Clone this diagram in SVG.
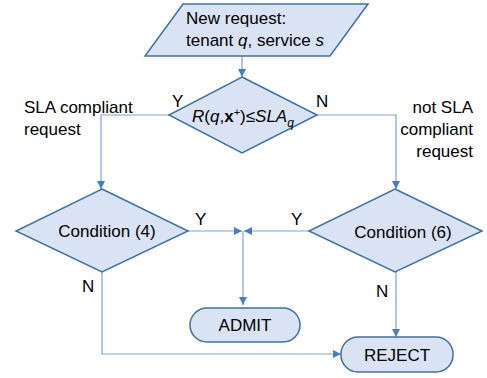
<svg xmlns="http://www.w3.org/2000/svg" width="487" height="378" viewBox="0 0 487 378">
  <defs>
    <marker id="arrow" viewBox="0 0 10 10" refX="10" refY="5" markerWidth="8" markerHeight="8" markerUnits="userSpaceOnUse" orient="auto">
      <path d="M0,0 L10,5 L0,10 Z" fill="#4a7cc4"/>
    </marker>
    <style>
      .shape { fill: #dae3f3; stroke: #41719c; stroke-width: 1.5; }
      .conn { fill: none; stroke: #7ea3d4; stroke-width: 1.2; }
      .lbl { font-family: "Liberation Sans", Arial, sans-serif; font-size: 17px; fill: #000; }
      .mid { text-anchor: middle; }
    </style>
  </defs>

  <rect width="487" height="378" fill="#ffffff"/>

  <!-- connectors -->
  <g id="connectors">
    <path class="conn" d="M242,56 V77" marker-end="url(#arrow)"/>
    <path class="conn" d="M169,115 H101 V189" marker-end="url(#arrow)"/>
    <path class="conn" d="M317,115 H396 V189" marker-end="url(#arrow)"/>
    <path class="conn" d="M188,231 H242" marker-end="url(#arrow)"/>
    <path class="conn" d="M309,231 H244" marker-end="url(#arrow)"/>
    <path class="conn" d="M243,231 V305" marker-end="url(#arrow)"/>
    <path class="conn" d="M102,272 V354 H341" marker-end="url(#arrow)"/>
    <path class="conn" d="M396,272 V337" marker-end="url(#arrow)"/>
    <text class="lbl" x="172" y="107">Y</text>
    <text class="lbl" x="316" y="107">N</text>
    <text class="lbl" x="195" y="225">Y</text>
    <text class="lbl" x="291" y="225">Y</text>
    <text class="lbl" x="82" y="292">N</text>
    <text class="lbl" x="376" y="297">N</text>
  </g>

  <!-- side annotations -->
  <g id="note-compliant">
    <text class="lbl" x="24" y="113">SLA compliant</text>
    <text class="lbl" x="24" y="135">request</text>
  </g>
  <g id="note-not-compliant" text-anchor="end">
    <text class="lbl" x="473" y="113">not SLA</text>
    <text class="lbl" x="473" y="135">compliant</text>
    <text class="lbl" x="473" y="157">request</text>
  </g>

  <!-- nodes -->
  <g id="new-request">
    <polygon class="shape" points="183,4 368,4 330,56 145,56"/>
    <text class="lbl" x="186" y="24">New request:</text>
    <text class="lbl" x="186" y="46">tenant <tspan font-style="italic">q</tspan>, service <tspan font-style="italic">s</tspan></text>
  </g>

  <g id="sla-check">
    <polygon class="shape" points="242,77 317,115 242,153 169,115"/>
    <text class="lbl" x="192" y="122"><tspan font-style="italic">R</tspan>(<tspan font-style="italic">q</tspan>,<tspan font-weight="bold">x</tspan><tspan font-size="11" dy="-6">+</tspan><tspan dy="6">)≤</tspan><tspan font-style="italic">SLA</tspan><tspan font-style="italic" font-size="12" dy="5">q</tspan></text>
  </g>

  <g id="condition-4">
    <polygon class="shape" points="102,189 188,231 102,272 16,231"/>
    <text class="lbl mid" x="107" y="237">Condition (4)</text>
  </g>

  <g id="condition-6">
    <polygon class="shape" points="395,189 482,231 395,272 309,231"/>
    <text class="lbl mid" x="403" y="238">Condition (6)</text>
  </g>

  <g id="admit">
    <rect class="shape" x="190" y="308" width="110" height="34" rx="17"/>
    <text class="lbl mid" x="245" y="331">ADMIT</text>
  </g>

  <g id="reject">
    <rect class="shape" x="341" y="337" width="112" height="35" rx="17"/>
    <text class="lbl mid" x="397" y="361">REJECT</text>
  </g>
</svg>
